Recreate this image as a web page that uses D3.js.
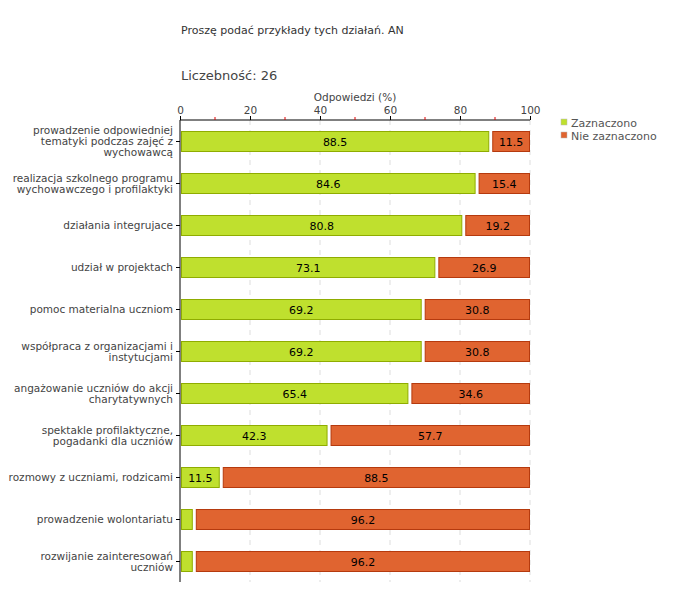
<!DOCTYPE html>
<html>
<head>
<meta charset="utf-8">
<script src="https://cdn.jsdelivr.net/npm/d3@7"></script>
<style>
  body { margin: 0; background: #fff; }
  text { font-family: "DejaVu Sans", Verdana, sans-serif; }
</style>
</head>
<body>
<svg id="chart" width="680" height="600"></svg>
<script>
const categories = [
  "prowadzenie odpowiedniej\ntematyki podczas zajęć z\nwychowawcą",
  "realizacja szkolnego programu\nwychowawczego i profilaktyki",
  "działania integrujace",
  "udział w projektach",
  "pomoc materialna uczniom",
  "współpraca z organizacjami i\ninstytucjami",
  "angażowanie uczniów do akcji\ncharytatywnych",
  "spektakle profilaktyczne,\npogadanki dla uczniów",
  "rozmowy z uczniami, rodzicami",
  "prowadzenie wolontariatu",
  "rozwijanie zainteresowań\nuczniów"
];
const zaznaczono = [88.5, 84.6, 80.8, 73.1, 69.2, 69.2, 65.4, 42.3, 11.5, 3.8, 3.8];
const nieZaznaczono = [11.5, 15.4, 19.2, 26.9, 30.8, 30.8, 34.6, 57.7, 88.5, 96.2, 96.2];
const seriesNames = ["Zaznaczono", "Nie zaznaczono"];
const xTicks = [0, 20, 40, 60, 80, 100];
const minorTicks = [10, 30, 50, 70, 90];

const svg = d3.select("#chart");
const margin = { top: 120, left: 180, right: 150, bottom: 18 };
const width = 680, height = 600;

const x = d3.scaleLinear().domain([0, 100]).range([margin.left, width - margin.right]);
const y = d3.scaleBand().domain(d3.range(categories.length))
  .range([margin.top, margin.top + 42 * categories.length]).paddingInner(0.524).paddingOuter(0.262);

// nagłówki
svg.append("text").attr("x", 181).attr("y", 34)
  .attr("font-size", "11px").attr("fill", "#333")
  .text("Proszę podać przykłady tych działań. AN");
svg.append("text").attr("x", 181).attr("y", 80)
  .attr("font-size", "13px").attr("fill", "#444")
  .text("Liczebność: 26");
svg.append("text").attr("x", x(50)).attr("y", 101)
  .attr("text-anchor", "middle").attr("font-size", "10.5px").attr("fill", "#444")
  .text("Odpowiedzi (%)");

// siatka
svg.selectAll(".grid").data(xTicks.slice(1)).enter().append("line")
  .attr("x1", d => x(d)).attr("x2", d => x(d))
  .attr("y1", margin.top).attr("y2", margin.top + 42 * categories.length)
  .attr("stroke", "#ddd").attr("stroke-dasharray", "5,5");

// oś X (góra)
const xAxis = svg.append("g").attr("transform", `translate(0,${margin.top})`)
  .call(d3.axisTop(x).tickValues(xTicks).tickSize(4).tickPadding(2).tickFormat(d3.format("d")));
xAxis.select(".domain").attr("stroke", "#000").attr("d", `M${x(0)},0H${x(100)}`);
xAxis.selectAll("text").attr("font-size", "10.5px").attr("fill", "#444")
  .style("font-family", '"DejaVu Sans", Verdana, sans-serif');
svg.selectAll(".minor").data(minorTicks).enter().append("line")
  .attr("x1", d => x(d)).attr("x2", d => x(d))
  .attr("y1", margin.top - 3).attr("y2", margin.top)
  .attr("stroke", "#d00");

// oś Y
svg.append("line").attr("x1", x(0)).attr("x2", x(0))
  .attr("y1", margin.top).attr("y2", margin.top + 42 * categories.length)
  .attr("stroke", "#000");
svg.selectAll(".ytick").data(categories).enter().append("line")
  .attr("x1", x(0) - 4).attr("x2", x(0))
  .attr("y1", (d, i) => y(i) + y.bandwidth() / 2 + 0.5)
  .attr("y2", (d, i) => y(i) + y.bandwidth() / 2 + 0.5)
  .attr("stroke", "#000");

const labels = svg.selectAll(".label").data(categories).enter().append("text")
  .attr("class", "label")
  .attr("text-anchor", "end").attr("font-size", "10.5px").attr("fill", "#444")
  .attr("transform", (d, i) => {
    const n = d.split("\n").length;
    return `translate(${x(0) - 7},${y(i) + y.bandwidth() / 2 + 4 - (n - 1) * 5.5})`;
  });
labels.selectAll("tspan").data(d => d.split("\n")).enter().append("tspan")
  .attr("x", 0).attr("dy", (d, i) => i === 0 ? 0 : 11).text(d => d);

// słupki
const colors = [
  { fill: "#bfe02e", stroke: "#8fac00" },
  { fill: "#e06430", stroke: "#b53a0e" }
];
categories.forEach((c, i) => {
  const segs = [
    { x0: 0, x1: zaznaczono[i], v: zaznaczono[i], s: 0 },
    { x0: zaznaczono[i], x1: zaznaczono[i] + nieZaznaczono[i], v: nieZaznaczono[i], s: 1 }
  ];
  segs.forEach(seg => {
    const a = seg.s === 0 ? x(seg.x0) + 1.5 : x(seg.x0) + 3;
    const b = seg.s === 0 ? x(seg.x1) - 1 : Math.min(x(seg.x1), x(100)) - 0.5;
    svg.append("rect")
      .attr("x", a).attr("y", y(i) + 0.5)
      .attr("width", b - a).attr("height", y.bandwidth())
      .attr("fill", colors[seg.s].fill).attr("stroke", colors[seg.s].stroke);
    if (seg.v >= 10) {
      svg.append("text").attr("x", (a + b) / 2).attr("y", y(i) + y.bandwidth() / 2 + 4.5)
        .attr("text-anchor", "middle").attr("font-size", "11px").attr("fill", "#000")
        .text(d3.format(".1f")(seg.v));
    }
  });
});

// legenda
seriesNames.forEach((name, i) => {
  svg.append("rect").attr("x", 561).attr("y", 119 + i * 13).attr("width", 6).attr("height", 6)
    .attr("fill", colors[i].fill).attr("stroke", "#bbb").attr("stroke-width", 0.5);
  svg.append("text").attr("x", 571).attr("y", 127 + i * 13)
    .attr("font-size", "11px").attr("fill", "#555").text(name);
});
</script>
</body>
</html>
